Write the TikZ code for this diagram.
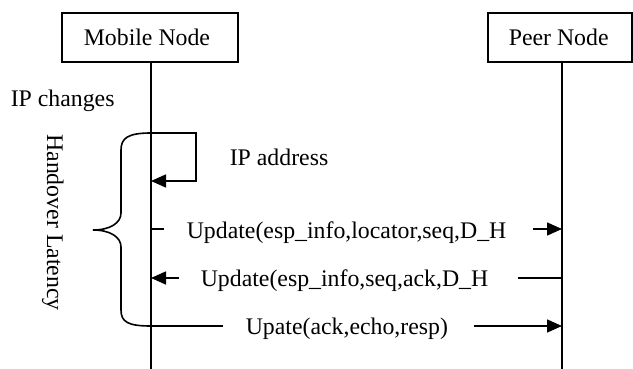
\documentclass[tikz,border=0pt]{standalone}
\usepackage{fontspec}
\setmainfont{Liberation Serif}
\usetikzlibrary{arrows.meta}
\begin{document}
\begin{tikzpicture}[x=1pt,y=-1pt,line width=1.6pt,
  actor/.style={draw,minimum height=49pt,inner sep=0pt},
  lbl/.style={inner sep=0pt,font=\fontsize{23.8}{28}\selectfont},
  msg/.style={-{Triangle[length=15pt,width=13pt]}}]
\useasboundingbox (0,0) rectangle (633,369);
% actors
\node[actor,minimum width=176pt] (mob) at (150,37.5) {};
\node[lbl,anchor=base west] (mobt) at (83,45.5) {Mobile Node};
\node[actor,minimum width=144pt] (peer) at (560,37.5) {};
\node[lbl,anchor=base west] (peert) at (508,45.5) {Peer Node};
% lifelines
\coordinate (mtop) at (151,61.5);
\coordinate (mbot) at (151,369);
\coordinate (ptop) at (562,61.5);
\coordinate (pbot) at (562,369);
\draw (mtop) -- (mbot);
\draw (ptop) -- (pbot);
% labels
\node[lbl,anchor=base west] (ipc) at (10,107) {IP changes};
\node[lbl,anchor=base west] (ipa) at (229,166) {IP address};
\node[lbl,anchor=base,rotate=-90] (hl) at (47,222.5) {Handover Latency};
% self loop
\coordinate (l1) at (151,133);
\coordinate (l2) at (196,133);
\coordinate (l3) at (196,181);
\coordinate (l4) at (151,181);
\draw[msg] (l1) -- (l2) -- (l3) -- (l4);
% brace
\coordinate (btip) at (93,230);
\coordinate (bbot) at (151,326);
\draw (l1) .. controls (128,133) and (121,138) .. (121,150) -- (121,213)
  .. controls (121,223) and (110,230) .. (btip)
  .. controls (110,230) and (121,237) .. (121,247) -- (121,310)
  .. controls (121,322) and (128,326) .. (bbot);
% message 1
\node[lbl,anchor=base west] (u1) at (186,238) {Update(esp\_info,locator,seq,D\_H};
\coordinate (a1) at (151,229);
\coordinate (a1e) at (164,229);
\coordinate (a1s) at (533,229);
\coordinate (a1p) at (562,229);
\draw (a1) -- (a1e);
\draw[msg] (a1s) -- (a1p);
% message 2
\node[lbl,anchor=base west] (u2) at (200,286) {Update(esp\_info,seq,ack,D\_H};
\coordinate (a2) at (151,278);
\coordinate (a2e) at (179,278);
\coordinate (a2s) at (518,278);
\coordinate (a2p) at (562,278);
\draw[msg] (a2e) -- (a2);
\draw (a2s) -- (a2p);
% message 3
\node[lbl,anchor=base west] (u3) at (245,334) {Upate(ack,echo,resp)};
\coordinate (a3e) at (223,326);
\coordinate (a3s) at (474,326);
\coordinate (a3p) at (562,326);
\draw (bbot) -- (a3e);
\draw[msg] (a3s) -- (a3p);
\end{tikzpicture}
\end{document}
